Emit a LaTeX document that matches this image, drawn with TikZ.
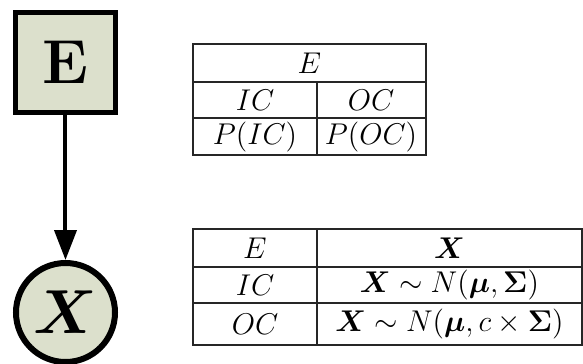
\documentclass[tikz,border=0pt]{standalone}
\usepackage{bm}
\usetikzlibrary{arrows.meta}
\definecolor{sage}{RGB}{220,224,204}
\tikzset{
	cellbox/.style={inner sep=0pt, font=\fontsize{12}{14}\selectfont},
	gridline/.style={line width=0.5pt, black!85},
}
\begin{document}
\begin{tikzpicture}[x=0.4pt, y=-0.4pt]
		\useasboundingbox (0,0) rectangle (583,363);
		% graphical model
		\node[draw, fill=sage, line width=2pt, minimum size=40pt, inner sep=0pt,
			font=\fontsize{24.88}{30}\selectfont\bfseries] (E) at (65.5,62.5) {E};
		\node[draw, circle, fill=sage, line width=2.4pt, minimum size=39.6pt, inner sep=0pt,
			font=\fontsize{24.88}{30}\selectfont] (X) at (65.5,312.5) {$\bm{X}$};
		\draw[line width=1.6pt, -{Triangle[length=12pt, width=8.8pt]}] (E) -- (X);

		% table of E
		\draw[gridline] (193,44) rectangle (426,155);
		\draw[gridline] (193,82) -- (426,82);
		\draw[gridline] (193,118) -- (426,118);
		\draw[gridline] (317,82) -- (317,155);
		\node[cellbox] (eHead) at (309.5,63) {$E$};
		\node[cellbox] (eIC) at (255,100) {$IC$};
		\node[cellbox] (eOC) at (371,100) {$OC$};
		\node[cellbox] (pIC) at (255,136.5) {$P(IC)$};
		\node[cellbox] (pOC) at (371,136.5) {$P(OC)$};

		% table of X given E
		\draw[gridline] (193,229) rectangle (582,345);
		\draw[gridline] (193,267) -- (582,267);
		\draw[gridline] (193,303) -- (582,303);
		\draw[gridline] (317,229) -- (317,345);
		\node[cellbox] (xE) at (255,248) {$E$};
		\node[cellbox] (xHead) at (449.5,248) {$\bm{X}$};
		\node[cellbox] (xIC) at (255,285) {$IC$};
		\node[cellbox] (xICdist) at (449.5,285) {$\bm{X}\sim N(\bm{\mu},\bm{\Sigma})$};
		\node[cellbox] (xOC) at (255,324) {$OC$};
		\node[cellbox] (xOCdist) at (449.5,324) {$\bm{X}\sim N(\bm{\mu},c\times\bm{\Sigma})$};
\end{tikzpicture}
\end{document}
